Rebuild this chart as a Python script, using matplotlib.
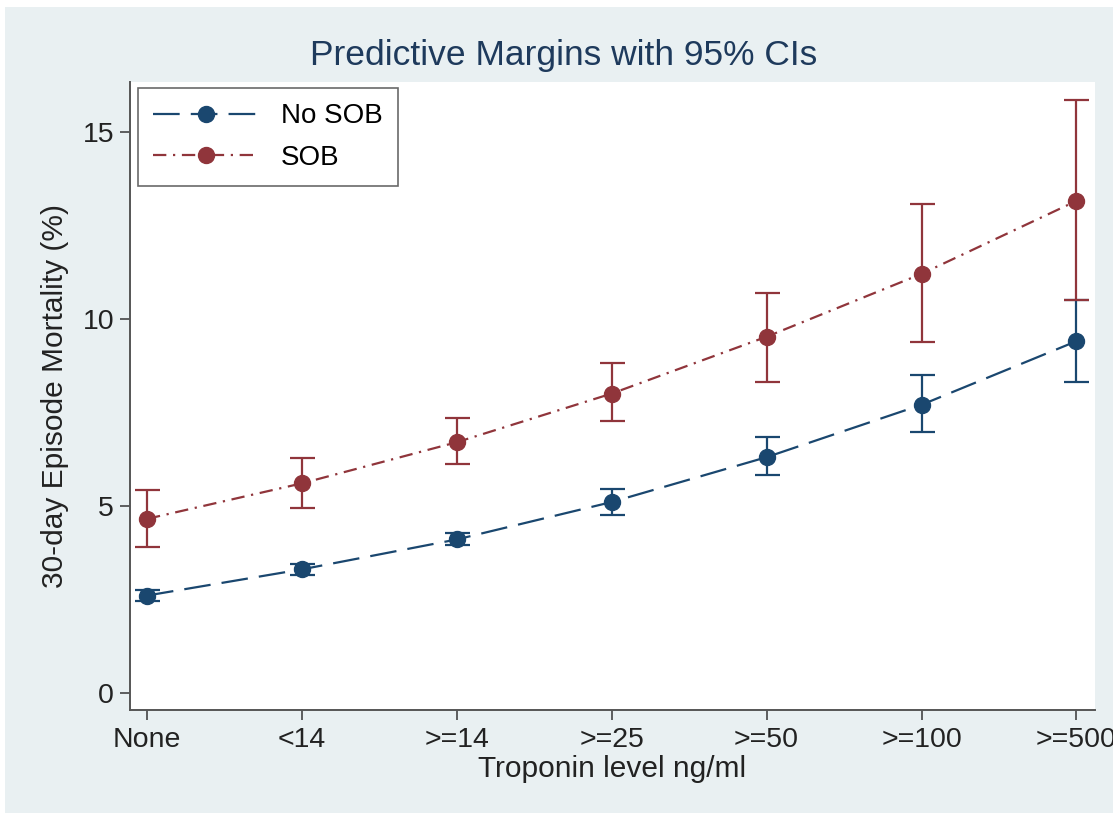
import numpy as np
import matplotlib.pyplot as plt
from matplotlib.patches import Rectangle

categories = ['None', '<14', '>=14', '>=25', '>=50', '>=100', '>=500']

no_sob = [2.6, 3.3, 4.1, 5.1, 6.3, 7.7, 9.4]
no_sob_lo = [2.45, 3.15, 3.95, 4.75, 5.82, 6.97, 8.3]
no_sob_hi = [2.75, 3.45, 4.28, 5.45, 6.83, 8.5, 10.49]

sob = [4.65, 5.6, 6.7, 8.0, 9.52, 11.2, 13.15]
sob_lo = [3.89, 4.94, 6.12, 7.26, 8.3, 9.39, 10.5]
sob_hi = [5.42, 6.28, 7.34, 8.81, 10.7, 13.08, 15.85]

plt.rcParams['font.family'] = ['Liberation Sans', 'DejaVu Sans']

BG = '#e9f0f2'
NAVY = '#1a476f'
MAROON = '#90353b'
TXT = '#222222'

fig = plt.figure(figsize=(11.13, 8.14), dpi=100)
fig.patch.set_facecolor('white')
fig.patches.append(Rectangle((5 / 1113, 1 / 814), 1, 1 - 8 / 814, transform=fig.transFigure,
                             facecolor=BG, edgecolor='none', zorder=-10))

ax = fig.add_axes([130 / 1113, 1 - 710 / 814, (1095 - 130) / 1113, (710 - 82) / 814])
ax.set_facecolor('white')
x = np.arange(len(categories))

def draw(vals, lo, hi, color, dashes, label):
    vals = np.array(vals)
    err = [vals - np.array(lo), np.array(hi) - vals]
    ax.errorbar(x, vals, yerr=err, fmt='none', ecolor=color, elinewidth=1.6,
                capsize=9, capthick=1.6, zorder=2)
    ax.plot(x, vals, color=color, lw=1.6, dashes=dashes, marker='o', markersize=11.5,
            markerfacecolor=color, markeredgecolor=color, label=label, zorder=3)

draw(no_sob, no_sob_lo, no_sob_hi, NAVY, (12, 5), 'No SOB')
draw(sob, sob_lo, sob_hi, MAROON, (6, 3, 1, 3), 'SOB')

ax.set_xlim(-0.11, 6.12)
ax.set_ylim(-0.46, 16.33)
ax.set_xticks(x)
ax.set_xticklabels(categories)
ax.set_yticks([0, 5, 10, 15])

for s in ['top', 'right']:
    ax.spines[s].set_visible(False)
for s in ['left', 'bottom']:
    ax.spines[s].set_color('#555555')
    ax.spines[s].set_linewidth(1.4)
ax.tick_params(axis='both', labelsize=20.5, colors='#444444', length=7.5, width=1.2,
               direction='out', labelcolor=TXT)
ax.tick_params(axis='x', pad=5)
ax.tick_params(axis='y', pad=4)

ax.set_xlabel('Troponin level ng/ml', fontsize=21.5, color=TXT, labelpad=1)
ax.set_ylabel('30-day Episode Mortality (%)', fontsize=21.5, color=TXT, labelpad=10)

fig.text(564 / 1113, 1 - 55 / 814, 'Predictive Margins with 95% CIs',
         ha='center', va='center', fontsize=25.5, color='#1e3a5c')

leg = ax.legend(loc='upper left', fontsize=20, frameon=True, fancybox=False,
                edgecolor='#444444', handlelength=3.8, handletextpad=0.8,
                borderpad=0.55, labelspacing=0.55, borderaxespad=0,
                bbox_to_anchor=(8 / 965, 1 - 6 / 628))
leg.get_frame().set_linewidth(1.2)

fig.savefig('out.png', dpi=100, facecolor=fig.get_facecolor())
